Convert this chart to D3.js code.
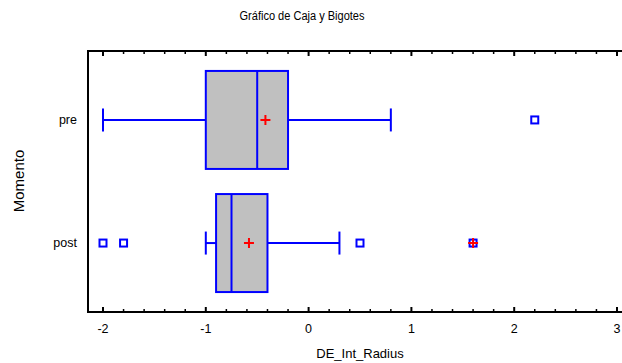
<!DOCTYPE html>
<html>
<head>
<meta charset="utf-8">
<script src="https://cdn.jsdelivr.net/npm/d3@7"></script>
<style>
  body { margin: 0; background: #fff; }
  text { font-family: "Liberation Sans", Arial, sans-serif; fill: #000; }
</style>
</head>
<body>
<div id="chart"></div>
<script>
// data
var categories = ["pre", "post"];
var whiskLow = [-2.0, -1.0];
var q1 = [-1.0, -0.9];
var median = [-0.5, -0.75];
var q3 = [-0.2, -0.4];
var whiskHigh = [0.8, 0.3];
var means = [-0.42, -0.58];
var outliers = [[2.2], [-2.0, -1.8, 0.5, 1.6]];
var farOutliers = [[], [1.6]];
var xTicks = [-2, -1, 0, 1, 2, 3];

var W = 622, H = 363;
var margin = { top: 51, right: 0, bottom: 51, left: 88 };

var svg = d3.select("#chart").append("svg")
  .attr("width", W).attr("height", H);

var x = d3.scaleLinear().domain([-2, 3]).range([103, 617]);
var y = d3.scalePoint().domain(categories)
  .range([margin.top, H - margin.bottom]).padding(0.56);
var boxH = 98, capH = 23;

// frame
var g = svg.append("g");
g.append("path")
  .attr("d", "M" + (W + 2) + "," + margin.top + "H" + margin.left + "V" + (H - margin.bottom) + "H" + (W + 2))
  .attr("fill", "none").attr("stroke", "#000").attr("stroke-width", 2);

// ticks, inward on top and bottom
var minor = d3.range(-2, 3.001, 0.2);
minor.forEach(function (v) {
  var major = Math.abs(v - Math.round(v)) < 1e-6;
  var len = major ? 5 : 3;
  g.append("line").attr("x1", x(v)).attr("x2", x(v))
    .attr("y1", margin.top).attr("y2", margin.top + len)
    .attr("stroke", "#000").attr("stroke-width", major ? 2 : 1.5);
  g.append("line").attr("x1", x(v)).attr("x2", x(v))
    .attr("y1", H - margin.bottom).attr("y2", H - margin.bottom - len)
    .attr("stroke", "#000").attr("stroke-width", major ? 2 : 1.5);
});

g.selectAll("text.xt").data(xTicks).enter().append("text")
  .attr("class", "xt")
  .attr("x", function (d) { return x(d); })
  .attr("y", 333)
  .attr("text-anchor", "middle")
  .style("font-size", "12.5px")
  .text(function (d) { return d; });

g.selectAll("text.yt").data(categories).enter().append("text")
  .attr("class", "yt")
  .attr("x", 77)
  .attr("y", function (d) { return y(d) + 4; })
  .attr("text-anchor", "end")
  .style("font-size", "12.5px")
  .text(function (d) { return d; });

svg.append("text").attr("x", 302).attr("y", 20)
  .attr("text-anchor", "middle").style("font-size", "12px")
  .attr("textLength", 125).attr("lengthAdjust", "spacingAndGlyphs")
  .text("Gráfico de Caja y Bigotes");

svg.append("text").attr("x", 360).attr("y", 358)
  .attr("text-anchor", "middle").style("font-size", "13px")
  .text("DE_Int_Radius");

svg.append("text")
  .attr("transform", "translate(24,181) rotate(-90)")
  .attr("text-anchor", "middle").style("font-size", "15px")
  .text("Momento");

// boxes
var blue = "#0000ff", red = "#ff0000";
categories.forEach(function (c, i) {
  var cy = y(c);
  var bg = svg.append("g");
  // whiskers
  bg.append("line").attr("x1", x(whiskLow[i])).attr("x2", x(q1[i]))
    .attr("y1", cy).attr("y2", cy).attr("stroke", blue).attr("stroke-width", 2);
  bg.append("line").attr("x1", x(q3[i])).attr("x2", x(whiskHigh[i]))
    .attr("y1", cy).attr("y2", cy).attr("stroke", blue).attr("stroke-width", 2);
  [whiskLow[i], whiskHigh[i]].forEach(function (v) {
    bg.append("line").attr("x1", x(v)).attr("x2", x(v))
      .attr("y1", cy - capH / 2).attr("y2", cy + capH / 2)
      .attr("stroke", blue).attr("stroke-width", 2);
  });
  bg.append("rect")
    .attr("x", x(q1[i])).attr("y", cy - boxH / 2)
    .attr("width", x(q3[i]) - x(q1[i])).attr("height", boxH)
    .attr("fill", "#c0c0c0").attr("stroke", blue).attr("stroke-width", 2);
  bg.append("line").attr("x1", x(median[i])).attr("x2", x(median[i]))
    .attr("y1", cy - boxH / 2).attr("y2", cy + boxH / 2)
    .attr("stroke", blue).attr("stroke-width", 2);

  outliers[i].forEach(function (v) {
    bg.append("rect").attr("x", x(v) - 3.5).attr("y", cy - 3.5)
      .attr("width", 7).attr("height", 7)
      .attr("fill", "#fff").attr("stroke", blue).attr("stroke-width", 2);
  });
  var plus = function (v) {
    bg.append("path")
      .attr("d", "M" + (x(v) - 5) + "," + cy + "h10M" + x(v) + "," + (cy - 5) + "v10")
      .attr("stroke", red).attr("stroke-width", 2);
  };
  farOutliers[i].forEach(plus);
  plus(means[i]);
});
</script>
</body>
</html>
